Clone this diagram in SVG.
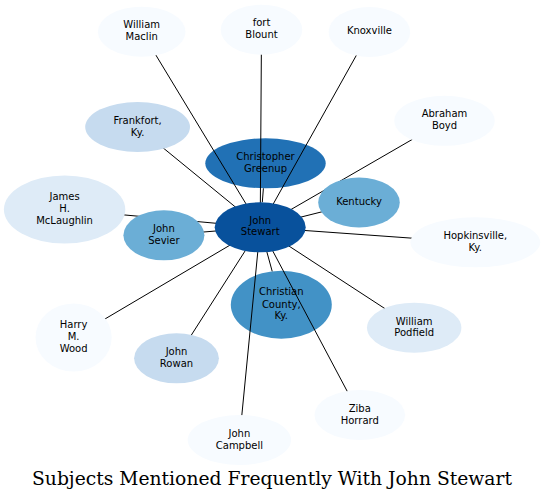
<svg xmlns="http://www.w3.org/2000/svg" width="545" height="501" viewBox="0 0 545 501">
<style>
  .n text { font-family: "DejaVu Sans", sans-serif; font-size: 10px; text-anchor: middle; fill: #000; }
  .e line { stroke: #000; stroke-width: 1; }
  .c0 { fill: #f7fbff; } .c1 { fill: #deebf7; } .c2 { fill: #c6dbef; } .c3 { fill: #6baed6; }
  .c4 { fill: #4292c6; } .c5 { fill: #2171b5; } .c6 { fill: #08519c; }
  .title { font-family: "DejaVu Serif", serif; font-size: 18.6px; text-anchor: middle; fill: #000; }
</style>
<rect width="545" height="501" fill="#fff"/>
<g id="n-christopher-greenup" class="n"><ellipse class="c5" cx="265.5" cy="163.3" rx="60.2" ry="25"/><text x="265.5" y="159.5">Christopher</text><text x="265.5" y="171.8">Greenup</text></g>
<g id="n-christian-county" class="n"><ellipse class="c4" cx="281.3" cy="304.7" rx="50.5" ry="34"/><text x="281.3" y="295.2">Christian</text><text x="281.3" y="307.5">County,</text><text x="281.3" y="318.8">Ky.</text></g>
<g id="edges" class="e">
  <line x1="260.2" y1="227.3" x2="141.7" y2="31.7"/>
  <line x1="260.2" y1="227.3" x2="261.5" y2="29.7"/>
  <line x1="260.2" y1="227.3" x2="369.4" y2="32"/>
  <line x1="260.2" y1="227.3" x2="444.5" y2="120.8"/>
  <line x1="260.2" y1="227.3" x2="137.6" y2="127"/>
  <line x1="262.3" y1="202.3" x2="263.4" y2="188.3"/>
  <line x1="260.2" y1="227.3" x2="64.6" y2="209.5"/>
  <line x1="260.2" y1="227.3" x2="163.9" y2="235.3"/>
  <line x1="260.2" y1="227.3" x2="359" y2="202.5"/>
  <line x1="260.2" y1="227.3" x2="475.3" y2="242.7"/>
  <line x1="266.9" y1="252" x2="272.2" y2="271.3"/>
  <line x1="260.2" y1="227.3" x2="414.2" y2="327.7"/>
  <line x1="260.2" y1="227.3" x2="73.6" y2="337.5"/>
  <line x1="260.2" y1="227.3" x2="176.5" y2="358.3"/>
  <line x1="260.2" y1="227.3" x2="359.8" y2="415"/>
  <line x1="260.2" y1="227.3" x2="239.4" y2="440"/>
</g>
<g id="n-william-maclin" class="n"><ellipse class="c0" cx="141.7" cy="31.7" rx="43.8" ry="25"/><text x="141.7" y="27.8">William</text><text x="141.7" y="39.5">Maclin</text></g>
<g id="n-fort-blount" class="n"><ellipse class="c0" cx="261.5" cy="29.7" rx="40.8" ry="25"/><text x="261.5" y="25.8">fort</text><text x="261.5" y="38.2">Blount</text></g>
<g id="n-knoxville" class="n"><ellipse class="c0" cx="369.4" cy="32" rx="40.8" ry="25"/><text x="369.4" y="33.8">Knoxville</text></g>
<g id="n-abraham-boyd" class="n"><ellipse class="c0" cx="444.5" cy="120.8" rx="50.2" ry="25"/><text x="444.5" y="116.8">Abraham</text><text x="444.5" y="128.8">Boyd</text></g>
<g id="n-frankfort" class="n"><ellipse class="c2" cx="137.6" cy="127" rx="52.4" ry="25"/><text x="137.6" y="123.5">Frankfort,</text><text x="137.6" y="135.8">Ky.</text></g>
<g id="n-james-mclaughlin" class="n"><ellipse class="c1" cx="64.6" cy="209.5" rx="60.7" ry="34"/><text x="64.6" y="199.5">James</text><text x="64.6" y="211.8">H.</text><text x="64.6" y="223.8">McLaughlin</text></g>
<g id="n-john-sevier" class="n"><ellipse class="c3" cx="163.9" cy="235.3" rx="40.5" ry="25"/><text x="163.9" y="231.8">John</text><text x="163.9" y="243.5">Sevier</text></g>
<g id="n-kentucky" class="n"><ellipse class="c3" cx="359" cy="202.5" rx="40.8" ry="25"/><text x="359" y="204.8">Kentucky</text></g>
<g id="n-hopkinsville" class="n"><ellipse class="c0" cx="475.3" cy="242.3" rx="64.9" ry="25"/><text x="475.3" y="239">Hopkinsville,</text><text x="475.3" y="251">Ky.</text></g>
<g id="n-william-podfield" class="n"><ellipse class="c1" cx="414.2" cy="327.7" rx="47.2" ry="25"/><text x="414.2" y="324.5">William</text><text x="414.2" y="335.8">Podfield</text></g>
<g id="n-harry-wood" class="n"><ellipse class="c0" cx="73.6" cy="337.5" rx="38.1" ry="34"/><text x="73.6" y="328.2">Harry</text><text x="73.6" y="340.2">M.</text><text x="73.6" y="351.8">Wood</text></g>
<g id="n-john-rowan" class="n"><ellipse class="c2" cx="176.5" cy="358.3" rx="42.4" ry="25"/><text x="176.5" y="354.8">John</text><text x="176.5" y="366.5">Rowan</text></g>
<g id="n-ziba-horrard" class="n"><ellipse class="c0" cx="359.8" cy="415" rx="45.3" ry="25"/><text x="359.8" y="411.5">Ziba</text><text x="359.8" y="423.5">Horrard</text></g>
<g id="n-john-campbell" class="n"><ellipse class="c0" cx="239.4" cy="440" rx="51.7" ry="25"/><text x="239.4" y="436.8">John</text><text x="239.4" y="448.5">Campbell</text></g>
<g id="n-john-stewart" class="n"><ellipse class="c6" cx="260.2" cy="227.3" rx="45.5" ry="25"/><text x="260.2" y="224.2">John</text><text x="260.2" y="235.2">Stewart</text></g>
<text class="title" x="272" y="485" textLength="480" lengthAdjust="spacingAndGlyphs">Subjects Mentioned Frequently With John Stewart</text>
</svg>
